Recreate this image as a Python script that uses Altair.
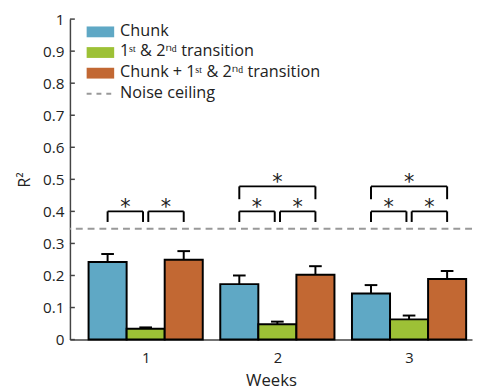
import altair as alt
import pandas as pd

weeks = [1, 2, 3]
series = ["Chunk", "1ˢᵗ & 2ⁿᵈ transition", "Chunk + 1ˢᵗ & 2ⁿᵈ transition"]
colors = ["#5fa8c5", "#9dc136", "#c26833"]
chunk = [0.242, 0.173, 0.144]
trans = [0.034, 0.048, 0.063]
combo = [0.249, 0.202, 0.189]
chunk_err = [0.025, 0.027, 0.026]
trans_err = [0.004, 0.008, 0.012]
combo_err = [0.027, 0.027, 0.025]
noise_ceiling = 0.346
y_ticks = [0, 0.1, 0.2, 0.3, 0.4, 0.5, 0.6, 0.7, 0.8, 0.9, 1]
# significance brackets: (week, left series index, right series index, level)
brackets = [(1, 0, 1, 0), (1, 1, 2, 0),
            (2, 0, 1, 0), (2, 1, 2, 0), (2, 0, 2, 1),
            (3, 0, 1, 0), (3, 1, 2, 0), (3, 0, 2, 1)]
level_bar = [0.400, 0.478]
level_leg = [0.367, 0.438]
level_star = [0.410, 0.488]

BW = 0.289
FONT = "Open Sans"
XDOM = [0.425, 3.478]

vals = [chunk, trans, combo]
errs = [chunk_err, trans_err, combo_err]
rows = []
for k in range(3):
    for i, w in enumerate(weeks):
        c = w + (k - 1) * BW
        rows.append(dict(series=series[k], xc=c, x0=c - BW / 2, x1=c + BW / 2,
                         v=vals[k][i], base=0.0, top=vals[k][i] + errs[k][i],
                         c0=c - 0.048, c1=c + 0.048))
df = pd.DataFrame(rows)

brows = []
for w, a, b, lev in brackets:
    xa = w + (a - 1) * BW
    xb = w + (b - 1) * BW
    if b - a == 1:
        if a == 0:
            xb -= 0.02
        else:
            xa += 0.02
    brows.append(dict(xa=xa, xb=xb, xm=(xa + xb) / 2, yb=level_bar[lev],
                      yl=level_leg[lev], ys=level_star[lev], s="*"))
bdf = pd.DataFrame(brows)

xs = alt.Scale(domain=XDOM, nice=False, zero=False)
ys = alt.Scale(domain=[0, 1], nice=False)

x_axis = alt.Axis(values=weeks, title="Weeks", ticks=False, grid=False,
                  labelFontSize=15, titleFontSize=17, labelFont=FONT, titleFont=FONT,
                  labelColor="#222", titleColor="#222", domainColor="#444",
                  domainWidth=1.5, labelPadding=11, titlePadding=8,
                  titleFontWeight="normal", labelExpr="datum.value")
y_axis = alt.Axis(values=y_ticks, title="R²", ticks=False, grid=False,
                  labelOverlap=False,
                  labelFontSize=15.5, titleFontSize=16, labelFont=FONT, titleFont=FONT,
                  labelColor="#222", titleColor="#222", domainColor="#444",
                  domainWidth=1.5, labelPadding=6, titlePadding=10,
                  labelFontWeight="normal", titleFontWeight="normal",
                  labelExpr="datum.value == 0 ? '0' : datum.value == 1 ? '1' : format(datum.value, '.1f')")


def X(f):
    return alt.X(f, scale=xs, axis=x_axis, title="Weeks")


def Y(f):
    return alt.Y(f, scale=ys, axis=y_axis, title="R²")


base = alt.Chart(df)

bars = base.mark_bar(stroke="black", strokeWidth=2).encode(
    x=X("x0:Q"), x2="x1:Q", y=Y("v:Q"), y2="base:Q",
    color=alt.Color("series:N", scale=alt.Scale(domain=series, range=colors), legend=None),
)

err_stem = base.mark_rule(color="black", strokeWidth=2).encode(
    x=X("xc:Q"), y=Y("v:Q"), y2="top:Q")
err_cap = base.mark_rule(color="black", strokeWidth=2).encode(
    x=X("c0:Q"), x2="c1:Q", y=Y("top:Q"))

ytick_df = pd.DataFrame({"t": y_ticks})
yticks = alt.Chart(ytick_df).mark_rule(color="#444", strokeWidth=1.5).encode(
    y=Y("t:Q"), x=alt.value(0), x2=alt.value(5))

noise = alt.Chart(pd.DataFrame({"n": [noise_ceiling]})).mark_rule(
    color="#999", strokeWidth=2, strokeDash=[7, 5]).encode(y=Y("n:Q"))

bb = alt.Chart(bdf)
b_h = bb.mark_rule(color="black", strokeWidth=2).encode(
    x=X("xa:Q"), x2="xb:Q", y=Y("yb:Q"))
b_l = bb.mark_rule(color="black", strokeWidth=2).encode(
    x=X("xa:Q"), y=Y("yb:Q"), y2="yl:Q")
b_r = bb.mark_rule(color="black", strokeWidth=2).encode(
    x=X("xb:Q"), y=Y("yb:Q"), y2="yl:Q")
stars = bb.mark_text(fontSize=21, font="DejaVu Sans", color="#222", baseline="middle").encode(
    x=X("xm:Q"), y=Y("ys:Q"), text="s:N")

# manual legend
leg_layers = []
leg_names = series + ["Noise ceiling"]
one = pd.DataFrame({"a": [0]})
for i, name in enumerate(leg_names):
    cy = 13 + 21 * i
    if i < 3:
        leg_layers.append(alt.Chart(one).mark_rect(color=colors[i]).encode(
            x=alt.value(17), x2=alt.value(45), y=alt.value(cy - 5.5), y2=alt.value(cy + 5.5)))
    else:
        leg_layers.append(alt.Chart(one).mark_rule(color="#999", strokeWidth=2, strokeDash=[5, 5]).encode(
            x=alt.value(17), x2=alt.value(45), y=alt.value(cy)))
    leg_layers.append(alt.Chart(one).mark_text(
        text=name, align="left", baseline="middle", fontSize=16.5, font=FONT, color="#222").encode(
        x=alt.value(51), y=alt.value(cy - 1)))

chart = alt.layer(bars, noise, err_stem, err_cap, yticks, b_h, b_l, b_r, stars, *leg_layers).properties(
    width=409, height=326,
    autosize=alt.AutoSizeParams(type="none"),
    padding={"left": 63, "top": 8, "right": 1, "bottom": 48},
).configure_view(stroke=None)

chart.save("out.html", embed_options={"renderer": "svg", "actions": False})
